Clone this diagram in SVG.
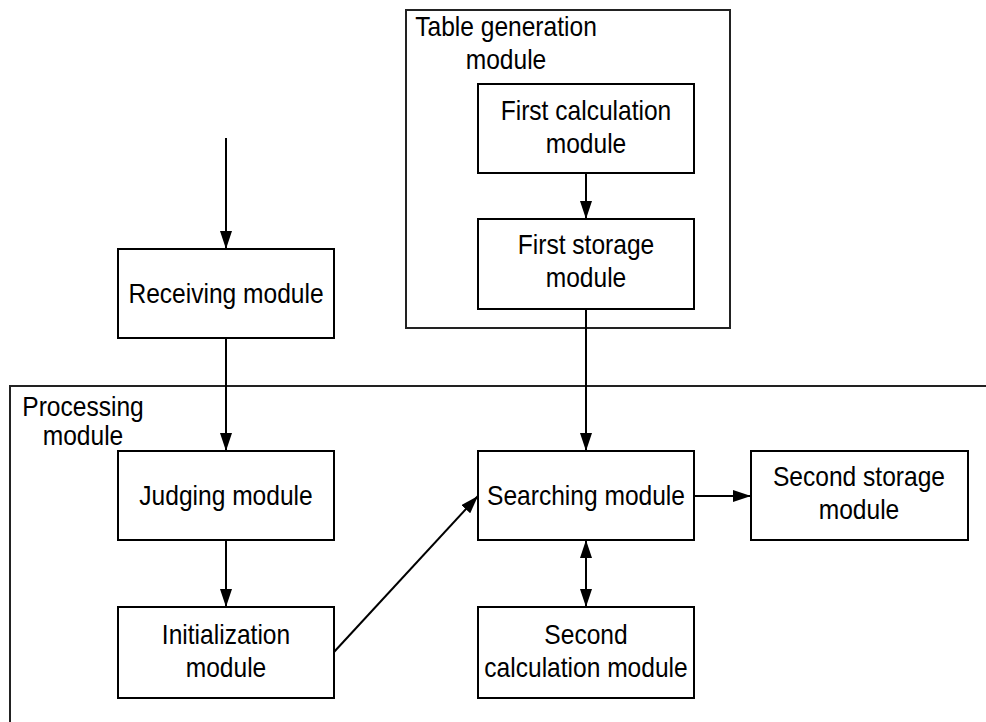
<svg xmlns="http://www.w3.org/2000/svg" width="986" height="722" viewBox="0 0 986 722">
<style>
.box{fill:#fff;stroke:#000;stroke-width:2}
.cont{fill:none;stroke:#222;stroke-width:2}
.t{font-family:"Liberation Sans",Arial,sans-serif;font-size:27px;fill:#000;text-anchor:middle}
.c{fill:none;stroke:#000;stroke-width:2}
</style>
<defs>
<marker id="ah" markerUnits="userSpaceOnUse" markerWidth="18" markerHeight="12" refX="18" refY="6" orient="auto-start-reverse">
<path d="M0,0 L18,6 L0,12 z" fill="#000"/>
</marker>
</defs>
<g id="table-generation-module">
<rect class="cont" x="406" y="10" width="324" height="318"/>
<text class="t" transform="matrix(0.91 0 0 1 506 0)" x="0" y="36">Table generation</text>
<text class="t" transform="matrix(0.91 0 0 1 506 0)" x="0" y="69">module</text>
</g>
<g id="processing-module">
<path class="cont" d="M10,722 L10,386 L986,386"/>
<text class="t" transform="matrix(0.91 0 0 1 83 0)" x="0" y="416">Processing</text>
<text class="t" transform="matrix(0.91 0 0 1 83 0)" x="0" y="445">module</text>
</g>
<g id="first-calculation-module">
<rect class="box" x="478" y="84" width="216" height="89"/>
<text class="t" transform="matrix(0.91 0 0 1 586 0)" x="0" y="120">First calculation</text>
<text class="t" transform="matrix(0.91 0 0 1 586 0)" x="0" y="153">module</text>
</g>
<g id="first-storage-module">
<rect class="box" x="478" y="219" width="216" height="90"/>
<text class="t" transform="matrix(0.91 0 0 1 586 0)" x="0" y="254">First storage</text>
<text class="t" transform="matrix(0.91 0 0 1 586 0)" x="0" y="287">module</text>
</g>
<g id="receiving-module">
<rect class="box" x="118" y="249" width="216" height="89"/>
<text class="t" transform="matrix(0.91 0 0 1 226 0)" x="0" y="303">Receiving module</text>
</g>
<g id="judging-module">
<rect class="box" x="118" y="451" width="216" height="89"/>
<text class="t" transform="matrix(0.91 0 0 1 226 0)" x="0" y="505">Judging module</text>
</g>
<g id="initialization-module">
<rect class="box" x="118" y="607" width="216" height="91"/>
<text class="t" transform="matrix(0.91 0 0 1 226 0)" x="0" y="644">Initialization</text>
<text class="t" transform="matrix(0.91 0 0 1 226 0)" x="0" y="677">module</text>
</g>
<g id="searching-module">
<rect class="box" x="478" y="451" width="216" height="89"/>
<text class="t" transform="matrix(0.91 0 0 1 586 0)" x="0" y="505">Searching module</text>
</g>
<g id="second-storage-module">
<rect class="box" x="751" y="451" width="217" height="89"/>
<text class="t" transform="matrix(0.91 0 0 1 859 0)" x="0" y="486">Second storage</text>
<text class="t" transform="matrix(0.91 0 0 1 859 0)" x="0" y="519">module</text>
</g>
<g id="second-calculation-module">
<rect class="box" x="478" y="607" width="216" height="91"/>
<text class="t" transform="matrix(0.91 0 0 1 586 0)" x="0" y="644">Second</text>
<text class="t" transform="matrix(0.91 0 0 1 586 0)" x="0" y="677">calculation module</text>
</g>
<g id="connectors">
<line class="c" x1="226" y1="138" x2="226" y2="249" marker-end="url(#ah)"/>
<line class="c" x1="226" y1="338" x2="226" y2="451" marker-end="url(#ah)"/>
<line class="c" x1="226" y1="540" x2="226" y2="607" marker-end="url(#ah)"/>
<line class="c" x1="586" y1="173" x2="586" y2="219" marker-end="url(#ah)"/>
<line class="c" x1="586" y1="309" x2="586" y2="451" marker-end="url(#ah)"/>
<line class="c" x1="334" y1="652" x2="478" y2="496" marker-end="url(#ah)"/>
<line class="c" x1="694" y1="496" x2="751" y2="496" marker-end="url(#ah)"/>
<line class="c" x1="586" y1="540" x2="586" y2="607" marker-start="url(#ah)" marker-end="url(#ah)"/>
</g>
</svg>
